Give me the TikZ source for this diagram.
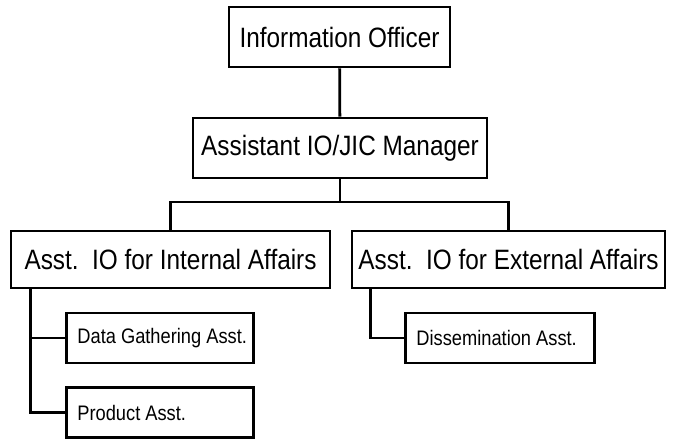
\documentclass[tikz,border=0pt]{standalone}
\usepackage{fontspec}
\newfontfamily\orgfont[FakeStretch=0.87]{Liberation Sans}
\usetikzlibrary{positioning}

\begin{document}
\begin{tikzpicture}[
  x=1pt, y=-1pt,
  unitbox/.style = {rectangle, draw=black, line width=2.8pt, inner sep=0pt,
                    font=\orgfont\fontsize{28}{30}\selectfont},
  subbox/.style  = {rectangle, draw=black, line width=2.8pt, inner xsep=11pt, inner ysep=0pt,
                    minimum height=50pt, anchor=west,
                    font=\orgfont\fontsize{21}{23}\selectfont},
  link/.style    = {line width=2.8pt}
]
\useasboundingbox (0,0) rectangle (674,444);

%% ── Level 1 and 2: officer and manager ───────────────────────────────────────
\node[unitbox, minimum width=221pt, minimum height=60pt] (officer) at (339.5,37)  {Information Officer};
\node[unitbox, minimum width=294pt, minimum height=60pt] (manager) at (340,148)   {Assistant IO/JIC Manager};

%% ── Level 3: internal / external affairs ─────────────────────────────────────
\node[unitbox, minimum width=319pt, minimum height=57pt] (internal) at (170.5,259.5) {Asst.\ \ IO for Internal Affairs};
\node[unitbox, minimum width=313pt, minimum height=57pt] (external) at (508.5,259.5) {Asst.\ \ IO for External Affairs};

%% ── Level 4: assistants ──────────────────────────────────────────────────────
\node[subbox] (datagather) at (65,338)   {\makebox[165pt][l]{Data Gathering Asst.}};
\node[subbox] (product)    at (65,412.5) {\makebox[165pt][l]{Product Asst.}};
\node[subbox] (dissem)     at (404,338)  {\makebox[167pt][l]{Dissemination Asst.}};

%% ── Connectors ───────────────────────────────────────────────────────────────
\coordinate (bus)     at (340,202);
\coordinate (intstem) at ([xshift=21pt]internal.south west);
\coordinate (extstem) at ([xshift=20pt]external.south west);

\draw[link] (officer) -- (manager);
\draw[link] (manager) -- (bus);
\draw[link] (internal.north) |- (bus) -| (external.north);
\draw[link] (intstem) |- (datagather.west);
\draw[link] (intstem) |- (product.west);
\draw[link] (extstem) |- (dissem.west);

\end{tikzpicture}
\end{document}
